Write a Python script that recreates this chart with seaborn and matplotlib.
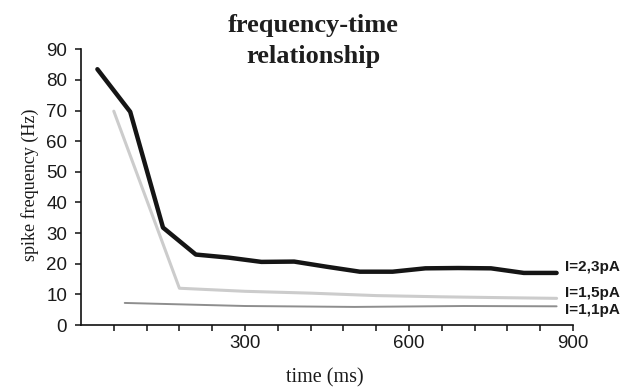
import matplotlib
matplotlib.use("Agg")
import matplotlib.pyplot as plt
import seaborn as sns
import pandas as pd

# --- data ---
t_23 = [30, 90, 150, 210, 270, 330, 390, 450, 510, 570, 630, 690, 750, 810, 870]
f_23 = [83.5, 69.6, 31.8, 23.0, 22.0, 20.6, 20.7, 19.0, 17.4, 17.4, 18.5, 18.6, 18.5, 17.0, 17.0]

t_15 = [60, 180, 300, 420, 540, 660, 780, 870]
f_15 = [69.8, 12.0, 11.0, 10.4, 9.6, 9.2, 8.9, 8.7]

t_11 = [80, 300, 500, 700, 870]
f_11 = [7.2, 6.2, 5.9, 6.2, 6.1]

series_labels = ["I=2,3pA", "I=1,5pA", "I=1,1pA"]
label_y = [18.9, 10.4, 4.9]

xticks = list(range(60, 901, 60))
xlabels_shown = [300, 600, 900]
yticks = list(range(0, 91, 10))

title_lines = ["frequency-time", "relationship"]
xlabel = "time (ms)"
ylabel = "spike frequency (Hz)"

sns.set_theme(style="ticks")
plt.rcParams["font.family"] = ["Liberation Sans", "DejaVu Sans"]

fig = plt.figure(figsize=(6.36, 3.87), dpi=100)
ax = fig.add_axes([81 / 636, 1 - 325 / 387, (573 - 81) / 636, (325 - 49.3) / 387])

df23 = pd.DataFrame({"t": t_23, "f": f_23})
df15 = pd.DataFrame({"t": t_15, "f": f_15})
df11 = pd.DataFrame({"t": t_11, "f": f_11})

sns.lineplot(data=df11, x="t", y="f", ax=ax, color="#8e8e8e", lw=1.4, clip_on=False)
sns.lineplot(data=df15, x="t", y="f", ax=ax, color="#cccccc", lw=2.2, clip_on=False)
sns.lineplot(data=df23, x="t", y="f", ax=ax, color="#151515", lw=3.2, clip_on=False)

ax.set_xlim(0, 900)
ax.set_ylim(0, 90)
ax.set_xticks(xticks)
ax.set_xticklabels([str(v) if v in xlabels_shown else "" for v in xticks])
ax.set_yticks(yticks)
ax.set_yticklabels([str(v) for v in yticks])

for s in ["top", "right"]:
    ax.spines[s].set_visible(False)
for s in ["left", "bottom"]:
    ax.spines[s].set_color("#111111")
    ax.spines[s].set_linewidth(1.2)

ax.tick_params(axis="both", direction="out", length=4, width=1.1, color="#111111",
               labelsize=13.5, labelcolor="#1a1a1a")
ax.tick_params(axis="y", pad=6)
ax.tick_params(axis="x", pad=3)

ax.set_xlabel(xlabel, family=["Liberation Serif"], fontsize=14.5, color="#1a1a1a")
ax.set_ylabel(ylabel, family=["Liberation Serif"], fontsize=13, color="#1a1a1a")
ax.xaxis.set_label_coords(0.496, -0.19)
ax.yaxis.set_label_coords(-0.104, 0.51)
ax.xaxis.label.set_va("center")
ax.yaxis.label.set_va("center")

for lab, y in zip(series_labels, label_y):
    ax.text(886, y, lab, ha="left", va="center", fontsize=11, fontweight="bold",
            color="#1a1a1a", clip_on=False)

fig.text(313 / 636, 1 - 32 / 387, title_lines[0], ha="center", va="baseline",
         family=["Liberation Serif"], fontweight="bold", fontsize=19, color="#1e1e1e")
fig.text(313 / 636, 1 - 63 / 387, title_lines[1], ha="center", va="baseline",
         family=["Liberation Serif"], fontweight="bold", fontsize=19, color="#1e1e1e")

fig.savefig("out.png", dpi=100)
